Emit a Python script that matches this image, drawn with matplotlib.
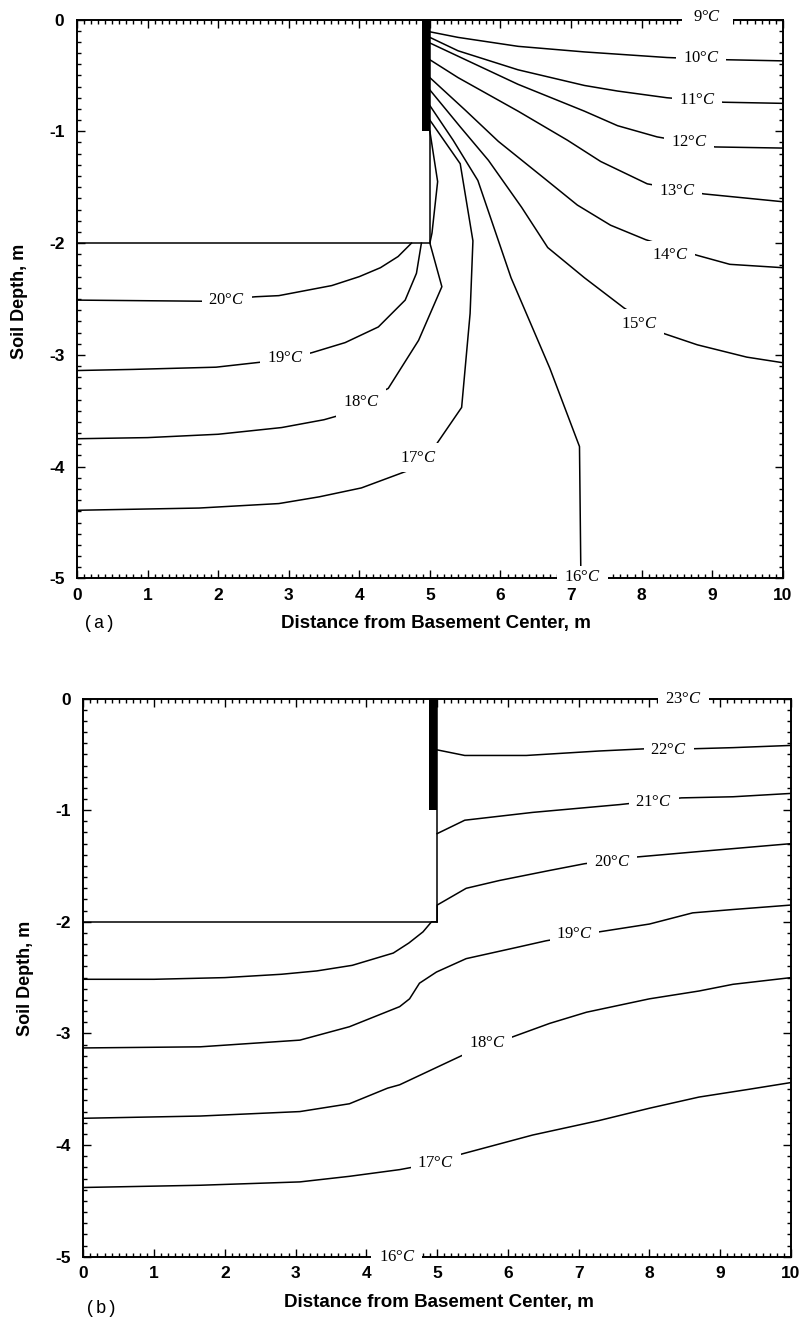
import matplotlib
matplotlib.use("Agg")
import matplotlib.pyplot as plt
from matplotlib.patches import Rectangle
from matplotlib.ticker import MultipleLocator

plt.rcParams["font.family"] = "Liberation Sans"
plt.rcParams["mathtext.fontset"] = "custom"
plt.rcParams["mathtext.rm"] = "Liberation Serif"
plt.rcParams["mathtext.it"] = "Liberation Serif:italic"
plt.rcParams["axes.unicode_minus"] = False

# panel (a): isotherms (x = distance m, y = depth m)
a10_x = [5.0, 5.40, 6.25, 7.19, 8.36, 9.21, 10.0]
a10_y = [-0.11, -0.16, -0.24, -0.29, -0.34, -0.36, -0.37]
a11_x = [5.0, 5.40, 6.25, 7.19, 7.66, 8.36, 9.16, 10.0]
a11_y = [-0.16, -0.28, -0.45, -0.59, -0.64, -0.70, -0.74, -0.75]
a12_x = [5.0, 5.54, 6.25, 7.19, 7.66, 8.22, 9.04, 10.0]
a12_y = [-0.21, -0.37, -0.58, -0.82, -0.95, -1.05, -1.14, -1.15]
a13_x = [5.0, 5.40, 6.25, 6.95, 7.42, 8.08, 8.88, 10.0]
a13_y = [-0.36, -0.52, -0.82, -1.08, -1.27, -1.47, -1.56, -1.63]
a14_x = [5.0, 5.50, 5.97, 6.62, 7.09, 7.56, 8.06, 8.79, 9.25, 10.0]
a14_y = [-0.52, -0.81, -1.09, -1.42, -1.66, -1.84, -1.97, -2.11, -2.19, -2.22]
a15_x = [5.0, 5.43, 5.83, 6.30, 6.67, 7.19, 7.75, 8.32, 8.79, 9.49, 10.0]
a15_y = [-0.63, -0.96, -1.26, -1.68, -2.04, -2.31, -2.58, -2.81, -2.91, -3.02, -3.07]
a16_x = [5.0, 5.33, 5.68, 6.15, 6.70, 7.12, 7.14]
a16_y = [-0.77, -1.08, -1.44, -2.31, -3.12, -3.82, -5.0]
a17_x = [5.0, 5.43, 5.61, 5.57, 5.45, 5.07, 4.67, 4.03, 3.43, 2.86, 1.73, 0.0]
a17_y = [-0.90, -1.29, -1.98, -2.63, -3.47, -3.82, -4.04, -4.19, -4.27, -4.33, -4.37, -4.39]
a18_x = [5.0, 5.11, 5.03, 5.0, 5.17, 4.84, 4.41, 4.03, 3.78, 3.5, 2.9, 2.0, 1.0, 0.0]
a18_y = [-1.0, -1.45, -1.91, -2.0, -2.39, -2.87, -3.30, -3.42, -3.53, -3.58, -3.65, -3.71, -3.74, -3.75]
a19_x = [4.88, 4.81, 4.65, 4.27, 3.80, 3.33, 2.96, 1.97, 0.79, 0.0]
a19_y = [-2.0, -2.27, -2.51, -2.75, -2.89, -2.98, -3.04, -3.11, -3.13, -3.14]
a20_x = [4.74, 4.55, 4.3, 4.0, 3.61, 2.86, 2.53, 1.78, 0.0]
a20_y = [-2.0, -2.12, -2.22, -2.30, -2.38, -2.47, -2.48, -2.52, -2.51]

# inline labels (interior isotherms) and labels sitting on the top/bottom boundary
a_lab_t = ["10", "11", "12", "13", "14", "15", "17", "18", "19", "20"]
a_lab_x = [8.84, 8.79, 8.67, 8.50, 8.41, 7.96, 4.84, 4.03, 2.95, 2.12]
a_lab_y = [-0.34, -0.72, -1.10, -1.53, -2.11, -2.72, -3.92, -3.42, -3.03, -2.51]
a_edge_t = ["9", "16"]
a_edge_x = [8.93, 7.16]
a_edge_y = [0.025, -4.985]

# panel (b)
b22_x = [5.0, 5.39, 6.26, 7.29, 7.95, 8.61, 9.18, 10.0]
b22_y = [-0.46, -0.51, -0.51, -0.47, -0.45, -0.45, -0.44, -0.42]
b21_x = [5.0, 5.39, 6.35, 7.58, 8.45, 9.18, 10.0]
b21_y = [-1.21, -1.09, -1.02, -0.95, -0.89, -0.88, -0.85]
b20_x = [0.0, 1.0, 2.0, 2.8, 3.3, 3.8, 4.38, 4.6, 4.8, 4.92, 5.0, 5.0, 5.41, 5.88, 6.59, 7.08, 7.81, 8.71, 10.0]
b20_y = [-2.515, -2.515, -2.50, -2.47, -2.44, -2.39, -2.28, -2.19, -2.09, -2.0, -2.0, -1.85, -1.70, -1.63, -1.54, -1.48, -1.42, -1.37, -1.30]
b19_x = [0.0, 1.65, 3.06, 3.76, 4.47, 4.61, 4.75, 4.99, 5.41, 6.12, 6.54, 7.29, 8.0, 8.61, 9.18, 10.0]
b19_y = [-3.13, -3.12, -3.06, -2.94, -2.76, -2.69, -2.55, -2.45, -2.33, -2.23, -2.17, -2.09, -2.02, -1.92, -1.89, -1.85]
b18_x = [0.0, 1.65, 3.06, 3.76, 4.3, 4.47, 5.41, 6.07, 6.59, 7.11, 8.0, 8.7, 9.18, 10.0]
b18_y = [-3.76, -3.74, -3.70, -3.63, -3.49, -3.46, -3.18, -3.03, -2.91, -2.81, -2.69, -2.62, -2.56, -2.50]
b17_x = [0.0, 1.65, 3.06, 3.76, 4.47, 4.98, 5.29, 6.35, 7.29, 8.0, 8.7, 9.41, 10.0]
b17_y = [-4.38, -4.36, -4.33, -4.28, -4.22, -4.16, -4.09, -3.91, -3.78, -3.67, -3.57, -3.50, -3.44]

b_lab_t = ["22", "21", "20", "19", "18", "17"]
b_lab_x = [8.27, 8.06, 7.47, 6.94, 5.71, 4.98]
b_lab_y = [-0.46, -0.93, -1.46, -2.11, -3.09, -4.16]
b_edge_t = ["23", "16"]
b_edge_x = [8.48, 4.43]
b_edge_y = [0.0, -5.0]

a_lines = [(a10_x, a10_y), (a11_x, a11_y), (a12_x, a12_y), (a13_x, a13_y), (a14_x, a14_y),
           (a15_x, a15_y), (a16_x, a16_y), (a17_x, a17_y), (a18_x, a18_y), (a19_x, a19_y),
           (a20_x, a20_y)]
b_lines = [(b22_x, b22_y), (b21_x, b21_y), (b20_x, b20_y), (b19_x, b19_y), (b18_x, b18_y),
           (b17_x, b17_y)]

fig = plt.figure(figsize=(8.02, 13.18), dpi=100)
ax_a = fig.add_axes([0.096, 0.5611, 0.880, 0.4241])
ax_b = fig.add_axes([0.1039, 0.04651, 0.8824, 0.4235])


def panel(ax, lines, labs, edges, tag, tag_xy, xlab_xy, ylab_xy):
    # basement floor, wall and insulation
    ax.plot([0, 5], [-2, -2], color="k", lw=1.1)
    ax.plot([5, 5], [-2, 0], color="k", lw=1.1)
    ax.add_patch(Rectangle((4.89, -1.0), 0.11, 1.0, facecolor="k", edgecolor="none"))
    for xs, ys in lines:
        ax.plot(xs, ys, color="k", lw=1.1)
    for t, x, y in zip(*labs):
        ax.text(x, y, t + "°$C$", family="Liberation Serif", fontsize=12,
                ha="center", va="center", zorder=6,
                bbox=dict(boxstyle="square,pad=0.4", fc="white", ec="none"))
    # boundary labels: break the frame (spine + inward ticks) under the text
    for t, x, y in zip(*edges):
        y0 = -0.11 if y > -2.5 else -5.03
        ax.add_patch(Rectangle((x - 0.36, y0), 0.72, 0.14, facecolor="white",
                               edgecolor="none", zorder=5, clip_on=False))
        ax.text(x, y, t + "°$C$", family="Liberation Serif", fontsize=12,
                ha="center", va="center", zorder=6)
    ax.set_xlim(0, 10)
    ax.set_ylim(-5, 0)
    ax.set_xticks(range(0, 11))
    ax.set_yticks(range(-5, 1))
    ax.xaxis.set_minor_locator(MultipleLocator(0.1))
    ax.yaxis.set_minor_locator(MultipleLocator(0.1))
    ax.tick_params(which="both", direction="in", top=True, right=True, width=1.0)
    ax.tick_params(which="major", length=6, labelsize=12.5)
    ax.tick_params(which="minor", length=3)
    ax.tick_params(axis="x", pad=7)
    ax.tick_params(axis="y", pad=9)
    for lab in ax.get_xticklabels() + ax.get_yticklabels():
        lab.set_fontweight("bold")
    for sp in ax.spines.values():
        sp.set_linewidth(1.4)
    ax.set_xlabel("Distance from Basement Center, m", fontsize=13.5, fontweight="bold")
    ax.xaxis.set_label_coords(*xlab_xy)
    ax.xaxis.label.set_verticalalignment("center")
    ax.set_ylabel("Soil Depth, m", fontsize=13, fontweight="bold")
    ax.yaxis.set_label_coords(*ylab_xy)
    ax.yaxis.label.set_verticalalignment("center")
    ax.text(tag_xy[0], tag_xy[1], tag, transform=ax.transAxes, family="Liberation Mono",
            fontsize=13, ha="center", va="center")


panel(ax_a, a_lines, (a_lab_t, a_lab_x, a_lab_y), (a_edge_t, a_edge_x, a_edge_y),
      "(a)", (0.031, -0.080), (0.508, -0.081), (-0.082, 0.495))
panel(ax_b, b_lines, (b_lab_t, b_lab_x, b_lab_y), (b_edge_t, b_edge_x, b_edge_y),
      "(b)", (0.025, -0.092), (0.502, -0.082), (-0.082, 0.499))

fig.savefig("out.png", dpi=100)
